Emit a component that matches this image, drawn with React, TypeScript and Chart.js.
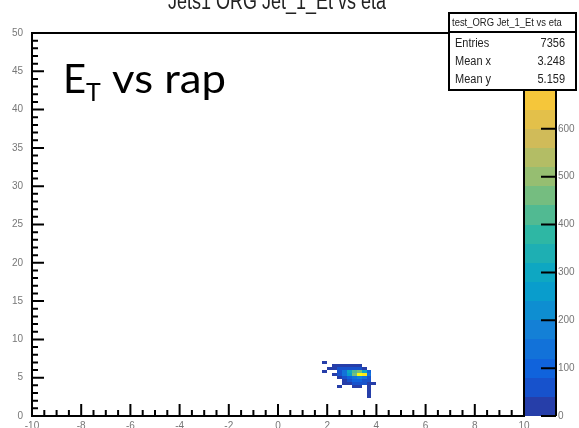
import React, { useEffect, useRef } from 'react';
import { Chart, registerables } from 'chart.js';

Chart.register(...registerables);

// ---- text ----
const TITLE = 'Jets1 ORG Jet_1_Et vs eta';
const STAT_NAME = 'test_ORG Jet_1_Et vs eta';
const STAT_LABELS = ['Entries', 'Mean x', 'Mean y'];
const STAT_VALUES = ['7356', '3.248', '5.159'];
const NOTE_MAIN = 'E';
const NOTE_SUB = 'T';
const NOTE_REST = ' vs rap';

// ---- axes ----
const X_MIN = -10;
const X_MAX = 10;
const Y_MIN = 0;
const Y_MAX = 50;
const Z_MIN = 0;
const Z_MAX = 800;
const X_TICKS = [-10, -8, -6, -4, -2, 0, 2, 4, 6, 8, 10];
const Y_TICKS = [0, 5, 10, 15, 20, 25, 30, 35, 40, 45, 50];
const Z_TICKS = [0, 100, 200, 300, 400, 500, 600];
const X_MINOR_STEP = 0.5;
const Y_MINOR_STEP = 1;
const Z_LEVELS = 20;

// ---- 2D histogram: bin sizes, each row's lower y edge, first x bin, counts ----
const X_BIN = 0.2;
const Y_BIN = 0.4;
const ROW_Y = [6.8, 6.4, 6.0, 5.6, 5.2, 4.8, 4.4, 4.0, 3.6, 3.2, 2.8, 2.4];
const ROW_X_START = [1.8, 2.2, 2.0, 1.8, 2.2, 2.4, 2.6, 2.6, 2.4, 3.6, 3.6, 3.6];
const ROW_COUNTS = [
  [8],
  [20, 25, 30, 30, 25, 15],
  [15, 30, 45, 60, 70, 60, 40, 20],
  [10, 0, 0, 40, 150, 280, 420, 460, 300, 80],
  [30, 60, 150, 250, 450, 770, 720, 150],
  [30, 60, 100, 150, 170, 130, 50],
  [20, 50, 80, 90, 70, 40],
  [10, 20, 40, 50, 40, 30, 15],
  [8, 0, 0, 25, 15, 0, 20],
  [15],
  [12],
  [10],
];

// ---- ROOT "bird" palette ----
const BIRD_STOPS = [0, 0.125, 0.25, 0.375, 0.5, 0.625, 0.75, 0.875, 1];
const BIRD_R = [0.2082, 0.0592, 0.078, 0.0232, 0.1802, 0.5301, 0.8186, 0.9956, 0.9764];
const BIRD_G = [0.1664, 0.3599, 0.5041, 0.6419, 0.7178, 0.7492, 0.7328, 0.7862, 0.9832];
const BIRD_B = [0.5293, 0.8684, 0.8385, 0.7914, 0.6425, 0.4662, 0.3499, 0.1968, 0.0539];

function bird(f: number): string {
  const t = Math.max(0, Math.min(1, f));
  let i = 0;
  while (i < BIRD_STOPS.length - 2 && t > BIRD_STOPS[i + 1]) i++;
  const u = (t - BIRD_STOPS[i]) / (BIRD_STOPS[i + 1] - BIRD_STOPS[i]);
  const c = (a: number[]) => Math.round(255 * (a[i] + u * (a[i + 1] - a[i])));
  return `rgb(${c(BIRD_R)},${c(BIRD_G)},${c(BIRD_B)})`;
}

function bandColor(band: number): string {
  return bird((band + 0.99) / Z_LEVELS);
}

function zColor(v: number): string {
  const band = Math.min(Z_LEVELS - 1, Math.floor(((v - Z_MIN) / (Z_MAX - Z_MIN)) * Z_LEVELS));
  return bandColor(band);
}

type Cell = { x: number; y: number; v: number };

function buildCells(): Cell[] {
  const out: Cell[] = [];
  ROW_Y.forEach((yLow, r) => {
    ROW_COUNTS[r].forEach((v, k) => {
      if (v <= 0) return;
      const xLow = ROW_X_START[r] + k * X_BIN;
      out.push({ x: xLow + X_BIN / 2, y: yLow + Y_BIN / 2, v });
    });
  });
  return out;
}

const LABEL_FONT = '10px "Liberation Sans", Arial, sans-serif';
const LABEL_COLOR = '#777';

const histPlugin = {
  id: 'rootHist',
  beforeDraw(chart: any) {
    const ctx = chart.ctx;
    ctx.save();
    ctx.fillStyle = '#fff';
    ctx.fillRect(0, 0, chart.width, chart.height);
    ctx.restore();
  },
  afterDatasetsDraw(chart: any) {
    const { ctx } = chart;
    const xs = chart.scales.x;
    const ys = chart.scales.y;
    const data: Cell[] = chart.data.datasets[0].data;
    ctx.save();
    for (const c of data) {
      const x0 = Math.round(xs.getPixelForValue(c.x - X_BIN / 2));
      const x1 = Math.round(xs.getPixelForValue(c.x + X_BIN / 2));
      const y0 = Math.round(ys.getPixelForValue(c.y + Y_BIN / 2));
      const y1 = Math.round(ys.getPixelForValue(c.y - Y_BIN / 2));
      ctx.fillStyle = zColor(c.v);
      ctx.fillRect(x0, y0, x1 - x0, y1 - y0);
    }
    ctx.restore();
  },
  afterDraw(chart: any) {
    const { ctx } = chart;
    const xs = chart.scales.x;
    const ys = chart.scales.y;
    const zs = chart.scales.z;
    const left = xs.getPixelForValue(X_MIN);
    const right = xs.getPixelForValue(X_MAX);
    const bottom = ys.getPixelForValue(Y_MIN);
    const top = ys.getPixelForValue(Y_MAX);
    ctx.save();

    // colour bar
    const cbL = right;
    const cbR = right + 32;
    for (let b = 0; b < Z_LEVELS; b++) {
      const zLo = Z_MIN + ((Z_MAX - Z_MIN) * b) / Z_LEVELS;
      const zHi = Z_MIN + ((Z_MAX - Z_MIN) * (b + 1)) / Z_LEVELS;
      const yHi = Math.round(zs.getPixelForValue(zHi));
      const yLo = Math.round(zs.getPixelForValue(zLo));
      ctx.fillStyle = bandColor(b);
      ctx.fillRect(cbL, yHi, cbR - cbL, yLo - yHi);
    }
    ctx.strokeStyle = '#000';
    ctx.lineWidth = 2;
    ctx.beginPath();
    ctx.moveTo(cbR, top);
    ctx.lineTo(cbR, bottom);
    ctx.stroke();
    ctx.beginPath();
    for (const z of Z_TICKS) {
      const py = zs.getPixelForValue(z);
      ctx.moveTo(cbR - 15, py);
      ctx.lineTo(cbR, py);
    }
    ctx.stroke();
    ctx.font = LABEL_FONT;
    ctx.fillStyle = LABEL_COLOR;
    ctx.textAlign = 'left';
    ctx.textBaseline = 'middle';
    for (const z of Z_TICKS) {
      ctx.fillText(String(z), cbR + 2, zs.getPixelForValue(z));
    }

    // frame
    ctx.strokeStyle = '#000';
    ctx.lineWidth = 2;
    ctx.strokeRect(left, top, right - left, bottom - top);

    // ticks (inward)
    ctx.beginPath();
    for (let v = X_MIN; v <= X_MAX + 1e-9; v += X_MINOR_STEP) {
      const major = X_TICKS.some((t) => Math.abs(t - v) < 1e-9);
      const px = xs.getPixelForValue(v);
      ctx.moveTo(px, bottom);
      ctx.lineTo(px, bottom - (major ? 12 : 6));
    }
    for (let v = Y_MIN; v <= Y_MAX + 1e-9; v += Y_MINOR_STEP) {
      const major = Y_TICKS.some((t) => Math.abs(t - v) < 1e-9);
      const py = ys.getPixelForValue(v);
      ctx.moveTo(left, py);
      ctx.lineTo(left + (major ? 12 : 6), py);
    }
    ctx.stroke();

    // tick labels
    ctx.fillStyle = LABEL_COLOR;
    ctx.font = LABEL_FONT;
    ctx.textAlign = 'right';
    ctx.textBaseline = 'middle';
    for (const t of Y_TICKS) ctx.fillText(String(t), left - 9, ys.getPixelForValue(t));
    ctx.textAlign = 'center';
    ctx.textBaseline = 'top';
    for (const t of X_TICKS) ctx.fillText(String(t), xs.getPixelForValue(t), bottom + 5);

    // title (cut at the top of the picture)
    ctx.fillStyle = '#222';
    ctx.font = '18px "Liberation Sans", Arial, sans-serif';
    ctx.textAlign = 'center';
    ctx.textBaseline = 'alphabetic';
    ctx.save();
    ctx.translate(277, 9);
    ctx.scale(1, 1.35);
    ctx.fillText(TITLE, 0, 0);
    ctx.restore();

    // stats box
    const sbL = 449, sbT = 13, sbR = 576, sbB = 90, sbH = 32;
    ctx.fillStyle = '#fff';
    ctx.fillRect(sbL, sbT, sbR - sbL, sbB - sbT);
    ctx.strokeStyle = '#000';
    ctx.lineWidth = 2;
    ctx.strokeRect(sbL, sbT, sbR - sbL, sbB - sbT);
    ctx.beginPath();
    ctx.moveTo(sbL, sbH);
    ctx.lineTo(sbR, sbH);
    ctx.stroke();
    ctx.fillStyle = '#222';
    ctx.font = '9px "Liberation Sans", Arial, sans-serif';
    ctx.textBaseline = 'middle';
    ctx.textAlign = 'left';
    const w = ctx.measureText(STAT_NAME).width;
    const sc = Math.min(1.05, (sbR - sbL - 6) / w);
    ctx.save();
    ctx.translate(sbL + 3, (sbT + sbH) / 2 + 1);
    ctx.scale(sc, 1.2);
    ctx.fillText(STAT_NAME, 0, 0);
    ctx.restore();
    ctx.font = '11px "Liberation Sans", Arial, sans-serif';
    const rowsY = [44, 62, 80];
    STAT_LABELS.forEach((lab, i) => {
      ctx.save();
      ctx.translate(0, rowsY[i]);
      ctx.scale(1, 1.15);
      ctx.textAlign = 'left';
      ctx.fillText(lab, sbL + 6, 0);
      ctx.textAlign = 'right';
      ctx.fillText(STAT_VALUES[i], sbR - 11, 0);
      ctx.restore();
    });

    // slide note
    ctx.fillStyle = '#000';
    ctx.textAlign = 'left';
    ctx.textBaseline = 'alphabetic';
    ctx.font = '40px Lato, "Open Sans", sans-serif';
    ctx.fillText(NOTE_MAIN, 63, 93);
    const eW = ctx.measureText(NOTE_MAIN).width;
    ctx.font = '25px Lato, "Open Sans", sans-serif';
    ctx.fillText(NOTE_SUB, 63 + eW, 101);
    const tW = ctx.measureText(NOTE_SUB).width;
    ctx.font = '40px Lato, "Open Sans", sans-serif';
    const rW = ctx.measureText(NOTE_REST).width;
    const target = 226 - (63 + eW + tW);
    ctx.save();
    ctx.translate(63 + eW + tW, 93);
    ctx.scale(Math.min(1.15, target / rW), 1);
    ctx.fillText(NOTE_REST, 0, 0);
    ctx.restore();

    ctx.restore();
  },
};

export default function App() {
  const ref = useRef<HTMLCanvasElement>(null);
  useEffect(() => {
    const canvas = ref.current;
    if (!canvas) return;
    const chart = new Chart(canvas, {
      type: 'scatter',
      data: {
        datasets: [
          {
            data: buildCells() as any,
            pointRadius: 0,
            pointHoverRadius: 0,
            borderWidth: 0,
            backgroundColor: 'transparent',
            borderColor: 'transparent',
          },
        ],
      },
      options: {
        responsive: false,
        animation: false,
        events: [],
        layout: { autoPadding: false, padding: { left: 32, top: 33, right: 55, bottom: 12 } } as any,
        plugins: {
          legend: { display: false },
          tooltip: { enabled: false },
          title: { display: false },
        },
        scales: {
          x: { type: 'linear', min: X_MIN, max: X_MAX, display: false },
          y: { type: 'linear', min: Y_MIN, max: Y_MAX, display: false },
          z: { type: 'linear', axis: 'y', position: 'right', min: Z_MIN, max: Z_MAX, display: false } as any,
        },
      },
      plugins: [histPlugin],
    });
    return () => chart.destroy();
  }, []);
  return (
    <div style={{ position: 'absolute', left: 0, top: 0, width: 579, height: 428, background: '#fff' }}>
      <canvas ref={ref} width={579} height={428} style={{ display: 'block', width: 579, height: 428 }} />
    </div>
  );
}
